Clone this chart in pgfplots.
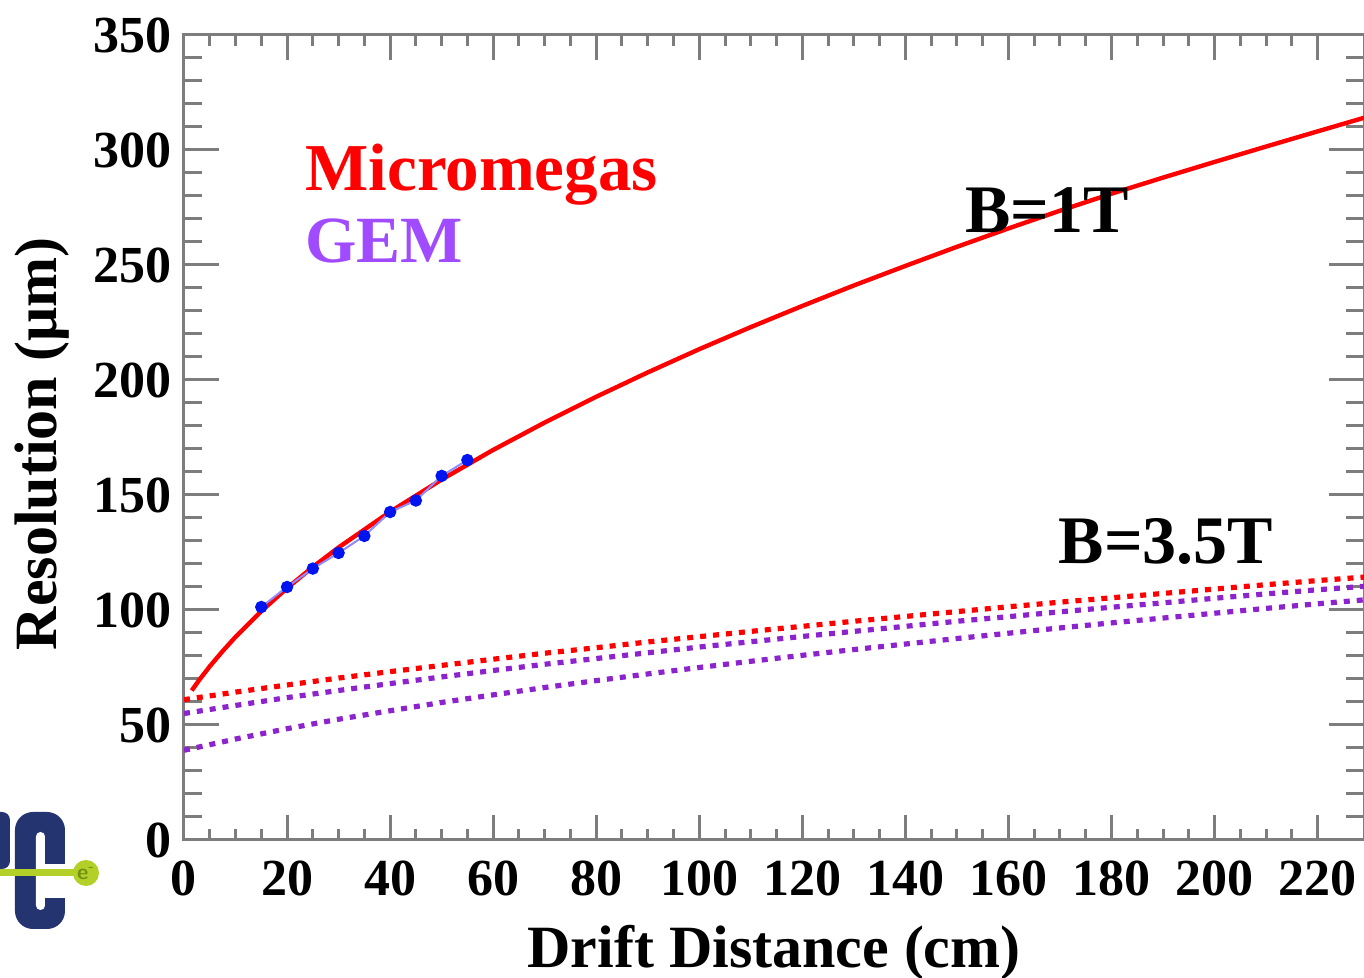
\documentclass[border=0pt]{standalone}
\usepackage{pgfplots}
\pgfplotsset{compat=1.18}
\usepackage{fontspec}
\setmainfont{Liberation Serif}
\definecolor{axgray}{RGB}{125,125,125}
\definecolor{mmred}{RGB}{255,0,0}
\definecolor{gempurple}{RGB}{140,35,205}
\definecolor{gemtext}{RGB}{160,75,255}
\definecolor{datablue}{RGB}{0,20,240}
\definecolor{navy}{RGB}{35,52,112}
\definecolor{lime}{RGB}{178,208,40}
\definecolor{limedark}{RGB}{115,145,20}
\begin{document}
\begin{tikzpicture}
\begin{axis}[
  scale only axis, width=590pt, height=402.5pt,
  xmin=0, xmax=229, ymin=0, ymax=350,
  xtick={0,20,...,220}, ytick={0,50,...,350},
  minor x tick num=3, minor y tick num=4,
  tick align=inside,
  axis line style={axgray, line width=1.5pt},
  every tick/.style={axgray, line width=1.5pt},
  major tick length=17.5pt, minor tick length=9pt,
  xtick style={/pgfplots/major tick length=12.5pt,/pgfplots/minor tick length=5.5pt},
  /pgf/number format/assume math mode=true,
  ticklabel style={font=\fontsize{26}{26}\selectfont\bfseries},
  xticklabel style={yshift=-7pt},
  yticklabel style={xshift=-2.5pt},
  xlabel={Drift Distance (cm)},
  ylabel={Resolution (μm)},
  xlabel style={font=\fontsize{30}{30}\selectfont\bfseries, at={(axis description cs:0.5,-0.159)}, anchor=base},
  ylabel style={font=\fontsize{30}{30}\selectfont\bfseries, at={(axis description cs:-0.108,0.492)}, anchor=base},
  clip=true,
]
% B=1T Micromegas fit
\addplot[mmred, line width=2.2pt] coordinates {
(1.5,65.0)(3,69.7)(5,75.5)(7.5,82.1)(10,88.3)(15,99.5)(20,109.5)(25,118.7)(30,127.2)
(40,142.7)(50,156.7)(60,169.6)(70,181.5)(80,192.7)(90,203.3)(100,213.4)(110,223.0)
(120,232.2)(130,241.1)(140,249.6)(150,257.9)(160,265.9)(170,273.6)(180,281.0)
(190,288.0)(200,294.8)(210,301.5)(220,308.1)(229,314.0)};
% data points
\addplot[blue!45, line width=1pt, mark=*, mark size=2.6pt, mark options={datablue, draw=datablue, fill=datablue}] coordinates {
(15,101.3)(20,110)(25,118)(30,124.8)(35,132.2)(40,142.6)(45,147.6)(50,158.3)(55,165.2)};
% B=3.5T
\addplot[mmred, line width=2.6pt, dash pattern=on 3pt off 3.5pt] coordinates {
(0,61.0)(10,64.3)(20,67.4)(30,70.4)(40,73.2)(50,75.9)(60,78.6)(70,81.2)(80,83.6)
(90,86.1)(100,88.4)(110,90.7)(120,92.9)(130,95.1)(140,97.2)(150,99.3)(160,101.4)
(170,103.4)(180,105.3)(190,107.2)(200,109.1)(210,111.0)(220,112.8)(229,114.3)};
\addplot[gempurple, line width=2.6pt, dash pattern=on 3pt off 3.5pt] coordinates {
(0,55.0)(10,58.5)(20,61.9)(30,65.0)(40,68.0)(50,70.9)(60,73.7)(70,76.4)(80,78.9)
(90,81.4)(100,83.9)(110,86.2)(120,88.5)(130,90.7)(140,92.9)(150,95.1)(160,97.1)
(170,99.2)(180,101.2)(190,103.1)(200,105.1)(210,107.0)(220,108.8)(229,110.3)};
\addplot[gempurple, line width=2.6pt, dash pattern=on 3pt off 3.5pt] coordinates {
(0,39.0)(10,43.9)(20,48.4)(30,52.5)(40,56.2)(50,59.8)(60,63.1)(70,66.3)(80,69.3)
(90,72.2)(100,75.0)(110,77.7)(120,80.3)(130,82.8)(140,85.2)(150,87.6)(160,89.9)
(170,92.2)(180,94.4)(190,96.5)(200,98.6)(210,100.7)(220,102.7)(229,104.4)};
\node[anchor=base west, inner sep=0pt, text=mmred, font=\fontsize{33.5}{33.5}\selectfont\bfseries] at (axis cs:23.5,282.6) {Micromegas};
\node[anchor=base west, inner sep=0pt, text=gemtext, font=\fontsize{33}{33}\selectfont\bfseries] at (axis cs:23.5,250.9) {GEM};
\node[anchor=base west, inner sep=0pt, text=black, font=\fontsize{34}{34}\selectfont\bfseries] at (axis cs:151.6,264.3) {B=1T};
\node[anchor=base west, inner sep=0pt, text=black, font=\fontsize{34}{34}\selectfont\bfseries] at (axis cs:169.7,120.0) {B=3.5T};
\end{axis}
\begin{scope}[shift={(current axis.south west)}, x=0.5pt, y=-0.5pt, shift={(-184,-840)}]
  % partial logo
  \fill[navy, rounded corners=4pt] (-20,812) rectangle (10,869);
  \fill[navy, rounded corners=9pt] (15,812) rectangle (65,929);
  \fill[white, rounded corners=2.2pt] (36,832) rectangle (45,910);
  \fill[white] (45,864) rectangle (66,898);
  \fill[lime] (0,869) rectangle (80,876);
  \fill[lime] (86,873) circle[radius=6.5pt];
  \node[text=limedark, font=\fontsize{11}{11}\selectfont\bfseries\sffamily, inner sep=0pt] at (86,874) {e\textsuperscript{-}};
  \pgfresetboundingbox
  \path (0,0) rectangle (1364,978);
\end{scope}
\end{tikzpicture}
\end{document}
